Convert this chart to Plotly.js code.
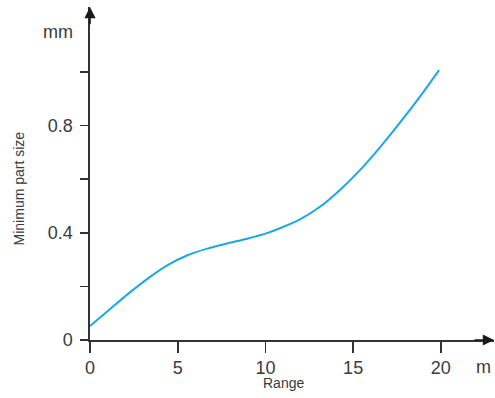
<!DOCTYPE html>
<html>
<head>
<meta charset="utf-8">
<script src="https://cdn.plot.ly/plotly-3.0.1.min.js"></script>
<style>html,body{margin:0;padding:0;background:#fff;}#chart{width:495px;height:398px;}</style>
</head>
<body>
<div id="chart"></div>
<script>
// Range (m) and minimum part size (mm)
var rangeM = [0, 1.03, 2.17, 3.31, 4.45, 5.59, 6.73, 7.87, 9.01, 10.05, 10.83, 11.97, 13.11, 14.25, 15.39, 16.53, 17.67, 18.81, 19.9];
var partSizeMM = [0.052, 0.109, 0.172, 0.230, 0.280, 0.317, 0.342, 0.361, 0.379, 0.398, 0.417, 0.450, 0.497, 0.560, 0.634, 0.719, 0.811, 0.908, 1.007];

var xTickVals = [0, 5, 10, 15, 20];
var xTickText = ['0', '5', '10', '15', '20'];
var yTickVals = [0, 0.2, 0.4, 0.6, 0.8, 1.0];
var yTickText = ['0', '', '0.4', '', '0.8', ''];

var xMax = 23.03, yMax = 1.2425;
var axisColor = '#333333';
var textColor = '#3a3a3a';
var fontFam = '"Liberation Sans", Arial, sans-serif';

var trace = {
  x: rangeM, y: partSizeMM, type: 'scatter', mode: 'lines',
  line: {color: '#1aa8e4', width: 2, shape: 'spline', smoothing: 0.8},
  hoverinfo: 'skip', showlegend: false
};

var layout = {
  width: 495, height: 398,
  margin: {l: 90, r: 1, t: 7, b: 58},
  paper_bgcolor: '#ffffff', plot_bgcolor: '#ffffff',
  font: {family: fontFam, color: textColor, size: 18},
  xaxis: {
    range: [0, xMax], showgrid: false, zeroline: false,
    showline: true, linecolor: axisColor, linewidth: 1.6,
    ticks: 'outside', ticklen: 11, tickwidth: 1.6, tickcolor: axisColor,
    tickvals: xTickVals, ticktext: xTickText, ticklabelstandoff: 0,
    tickfont: {size: 18, color: textColor, family: fontFam}, fixedrange: true
  },
  yaxis: {
    range: [0, yMax], showgrid: false, zeroline: false,
    showline: true, linecolor: axisColor, linewidth: 1.6,
    ticks: 'outside', ticklen: 8, tickwidth: 1.6, tickcolor: axisColor,
    tickvals: yTickVals, ticktext: yTickText, ticklabelstandoff: 4,
    tickfont: {size: 18, color: textColor, family: fontFam}, fixedrange: true
  },
  annotations: [
    {x: 0, y: yMax, ax: 0, ay: yMax - 0.07, xref: 'x', yref: 'y', axref: 'x', ayref: 'y',
     text: '', showarrow: true, arrowhead: 2, arrowsize: 1.4, arrowwidth: 1.6, arrowcolor: '#1a1a1a', standoff: 0},
    {x: xMax, y: 0, ax: xMax - 1.2, ay: 0, xref: 'x', yref: 'y', axref: 'x', ayref: 'y',
     text: '', showarrow: true, arrowhead: 2, arrowsize: 1.4, arrowwidth: 1.6, arrowcolor: '#1a1a1a', standoff: 0},
    {xref: 'paper', yref: 'paper', x: -0.08, y: 0.925, xanchor: 'center', yanchor: 'middle',
     text: 'mm', showarrow: false, font: {size: 18, color: textColor}},
    {xref: 'paper', yref: 'paper', x: 0.973, y: -0.082, xanchor: 'center', yanchor: 'middle',
     text: 'm', showarrow: false, font: {size: 18, color: textColor}},
    {xref: 'paper', yref: 'paper', x: 0.48, y: -0.13, xanchor: 'center', yanchor: 'middle',
     text: 'Range', showarrow: false, font: {size: 14, color: textColor}},
    {xref: 'paper', yref: 'paper', x: -0.175, y: 0.456, xanchor: 'center', yanchor: 'middle',
     text: 'Minimum part size', textangle: -90, showarrow: false, font: {size: 14, color: textColor}}
  ]
};

Plotly.newPlot('chart', [trace], layout, {displayModeBar: false, staticPlot: true});
</script>
</body>
</html>
